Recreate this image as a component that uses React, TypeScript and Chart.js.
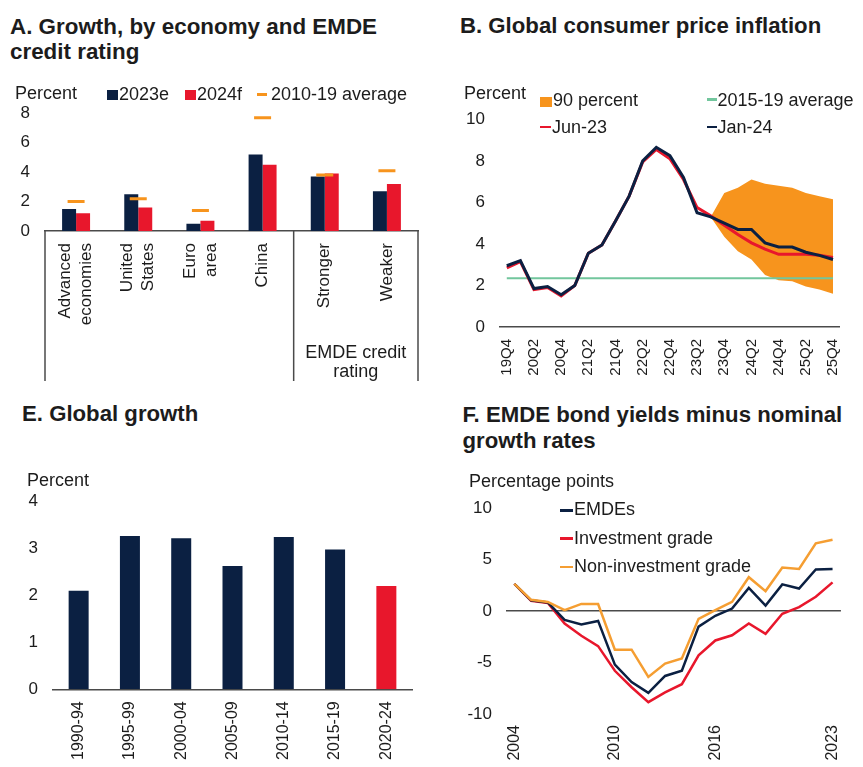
import React, { useEffect, useRef } from 'react';
import { Chart, registerables } from 'chart.js';

Chart.register(...registerables);

const FONT = '"Liberation Sans", Arial, Helvetica, sans-serif';
const TEXT = '#1c1c1c';
const NAVY = '#0b2042';
const RED = '#e8172c';
const ORANGE = '#f7941d';
const ORANGE_LINE = '#f59e32';
const GREEN = '#72c69d';
const AXIS = '#4a4a4a';

Chart.defaults.font.family = FONT;
Chart.defaults.color = TEXT;

// ---------- Panel A: Growth, by economy and EMDE credit rating ----------
const growthCategories = [['Advanced', 'economies'], ['United', 'States'], ['Euro', 'area'], ['China'], ['Stronger'], ['Weaker']];
const growth2023e = [1.5, 2.5, 0.5, 5.2, 3.7, 2.7];
const growth2024f = [1.2, 1.6, 0.7, 4.5, 3.9, 3.2];
const growthAvg1019 = [2.0, 2.2, 1.4, 7.7, 3.8, 4.1];
const growthGroupLabel = ['EMDE credit', 'rating'];

// ---------- Panel B: Global consumer price inflation ----------
const quarters = ['19Q4', '20Q1', '20Q2', '20Q3', '20Q4', '21Q1', '21Q2', '21Q3', '21Q4', '22Q1', '22Q2', '22Q3', '22Q4', '23Q1', '23Q2', '23Q3', '23Q4', '24Q1', '24Q2', '24Q3', '24Q4', '25Q1', '25Q2', '25Q3', '25Q4'];
const cpiJan24 = [2.95, 3.2, 1.85, 1.95, 1.55, 2.0, 3.55, 3.95, 5.1, 6.3, 8.0, 8.65, 8.25, 7.2, 5.5, 5.3, 5.0, 4.7, 4.7, 4.05, 3.85, 3.85, 3.6, 3.45, 3.25];
const cpiJun23 = [2.85, 3.15, 1.8, 1.9, 1.5, 2.0, 3.55, 3.95, 5.1, 6.3, 7.95, 8.55, 8.1, 7.1, 5.75, 5.35, 4.9, 4.45, 4.05, 3.75, 3.5, 3.5, 3.5, 3.45, 3.35];
const cpiBandHigh = [null, null, null, null, null, null, null, null, null, null, null, null, null, null, null, 5.3, 6.45, 6.7, 7.1, 6.9, 6.8, 6.7, 6.45, 6.3, 6.15];
const cpiBandLow = [null, null, null, null, null, null, null, null, null, null, null, null, null, null, null, 5.3, 4.35, 3.65, 3.25, 2.5, 2.25, 2.2, 1.95, 1.8, 1.6];
const cpiAvg1519 = 2.35;

// ---------- Panel E: Global growth ----------
const periods = ['1990-94', '1995-99', '2000-04', '2005-09', '2010-14', '2015-19', '2020-24'];
const globalGrowth = [2.1, 3.27, 3.22, 2.63, 3.25, 2.98, 2.2];

// ---------- Panel F: EMDE bond yields minus nominal growth rates ----------
const years = ['2004', '2005', '2006', '2007', '2008', '2009', '2010', '2011', '2012', '2013', '2014', '2015', '2016', '2017', '2018', '2019', '2020', '2021', '2022', '2023'];
const yearTicks = ['2004', '2010', '2016', '2023'];
const bondEMDEs = [2.65, 1.05, 0.85, -0.85, -1.3, -0.95, -5.2, -6.9, -7.95, -6.3, -5.8, -1.5, -0.45, 0.25, 2.25, 0.55, 2.6, 2.2, 4.05, 4.1];
const bondInvestment = [2.65, 1.0, 0.8, -1.2, -2.4, -3.4, -5.8, -7.4, -8.85, -7.9, -7.1, -4.3, -2.85, -2.35, -1.2, -2.2, -0.25, 0.4, 1.4, 2.8];
const bondNonInvestment = [2.65, 1.1, 0.9, 0.1, 0.7, 0.7, -3.75, -3.75, -6.4, -5.1, -4.6, -0.75, 0.1, 0.9, 3.3, 1.95, 4.25, 4.1, 6.6, 6.95];

type Box = { left: number; top: number; width: number; height: number };

function ChartCanvas({ box, makeConfig }: { box: Box; makeConfig: () => any }) {
  const ref = useRef<HTMLCanvasElement | null>(null);
  useEffect(() => {
    if (!ref.current) return;
    const chart = new Chart(ref.current, makeConfig());
    return () => chart.destroy();
  }, []);
  return (
    <canvas
      ref={ref}
      width={box.width}
      height={box.height}
      style={{ position: 'absolute', left: box.left, top: box.top, width: box.width, height: box.height, display: 'block' }}
    />
  );
}

function Label({ x, baseline, size = 18, bold = false, children }: any) {
  return (
    <div
      style={{
        position: 'absolute',
        left: x,
        top: baseline - 0.8465 * size,
        fontSize: size,
        lineHeight: `${size}px`,
        fontWeight: bold ? 'bold' : 'normal',
        fontFamily: FONT,
        color: TEXT,
        whiteSpace: 'nowrap',
      }}
    >
      {children}
    </div>
  );
}

function Swatch({ x, y, w, h, color }: any) {
  return <div style={{ position: 'absolute', left: x, top: y, width: w, height: h, background: color }} />;
}

const yWidth = (w: number) => (s: any) => {
  s.width = w;
};
const xHeight = (h: number) => (s: any) => {
  s.height = h;
};

const baseOptions = (padding: any) => ({
  responsive: false,
  animation: false as const,
  devicePixelRatio: 1,
  layout: { padding },
  plugins: { legend: { display: false }, tooltip: { enabled: false } },
});

// Panel A plugin: rotated multi-line category labels, bracket lines, group label
const panelAPlugin = {
  id: 'panelAExtras',
  afterDraw(chart: any) {
    const { ctx, chartArea, scales } = chart;
    const xs = scales.x;
    ctx.save();
    ctx.fillStyle = TEXT;
    ctx.font = `17px ${FONT}`;
    ctx.textAlign = 'right';
    ctx.textBaseline = 'middle';
    const lh = 21;
    growthCategories.forEach((lines, i) => {
      const cx = xs.getPixelForValue(i);
      const x0 = cx - ((lines.length - 1) * lh) / 2;
      lines.forEach((line, j) => {
        ctx.save();
        ctx.translate(x0 + j * lh, chartArea.bottom + 12);
        ctx.rotate(-Math.PI / 2);
        ctx.fillText(line, 0, 0);
        ctx.restore();
      });
    });
    const sep = (xs.getPixelForValue(3) + xs.getPixelForValue(4)) / 2;
    ctx.strokeStyle = AXIS;
    ctx.lineWidth = 1.5;
    [chartArea.left, sep, chartArea.right].forEach((px) => {
      ctx.beginPath();
      ctx.moveTo(px, chartArea.bottom);
      ctx.lineTo(px, chartArea.bottom + 150);
      ctx.stroke();
    });
    ctx.font = `18px ${FONT}`;
    ctx.textAlign = 'center';
    ctx.textBaseline = 'alphabetic';
    const gx = (sep + chartArea.right) / 2;
    ctx.fillText(growthGroupLabel[0], gx, chartArea.bottom + 126.7);
    ctx.fillText(growthGroupLabel[1], gx, chartArea.bottom + 145.7);
    ctx.restore();
  },
};

const configA = () => ({
  type: 'bar',
  data: {
    labels: growthCategories,
    datasets: [
      {
        type: 'line',
        label: '2010-19 average',
        data: growthAvg1019,
        showLine: false,
        pointStyle: 'line',
        pointRadius: 8.5,
        pointBorderWidth: 3,
        pointBorderColor: ORANGE,
        pointBackgroundColor: ORANGE,
        borderColor: ORANGE,
      },
      { label: '2023e', data: growth2023e, backgroundColor: NAVY, categoryPercentage: 0.45, barPercentage: 1 },
      { label: '2024f', data: growth2024f, backgroundColor: RED, categoryPercentage: 0.45, barPercentage: 1 },
    ],
  },
  options: {
    ...baseOptions({ top: 33.3, right: 12, left: 0, bottom: 0 }),
    scales: {
      x: {
        ticks: { display: false },
        grid: { display: false },
        border: { display: true, color: AXIS, width: 1.5 },
        afterFit: xHeight(169),
      },
      y: {
        min: 0,
        max: 8,
        ticks: { stepSize: 2, padding: 15, font: { size: 17 }, color: TEXT },
        grid: { display: false, drawTicks: false },
        border: { display: false },
        afterFit: yWidth(45),
      },
    },
  },
  plugins: [panelAPlugin],
});

const configB = () => ({
  type: 'line',
  data: {
    labels: quarters,
    datasets: [
      { label: 'Jan-24', data: cpiJan24, borderColor: NAVY, borderWidth: 3, pointRadius: 0, tension: 0 },
      { label: 'Jun-23', data: cpiJun23, borderColor: RED, borderWidth: 3, pointRadius: 0, tension: 0 },
      { label: '2015-19 average', data: quarters.map(() => cpiAvg1519), borderColor: GREEN, borderWidth: 2, pointRadius: 0 },
      {
        label: '90 percent',
        data: cpiBandHigh,
        borderWidth: 0,
        borderColor: 'rgba(0,0,0,0)',
        backgroundColor: ORANGE,
        pointRadius: 0,
        fill: '+1',
        spanGaps: false,
      },
      { label: 'band low', data: cpiBandLow, borderWidth: 0, borderColor: 'rgba(0,0,0,0)', pointRadius: 0, fill: false },
    ],
  },
  options: {
    ...baseOptions({ top: 39.3, right: 0, left: 0, bottom: 0 }),
    scales: {
      x: {
        offset: true,
        ticks: {
          autoSkip: false,
          minRotation: 90,
          maxRotation: 90,
          padding: 12,
          font: { size: 15 },
          color: TEXT,
          callback: (_v: any, i: number) => (i % 2 === 0 ? quarters[i] : ''),
        },
        grid: { display: false, drawTicks: false },
        border: { display: true, color: AXIS, width: 1.5 },
        afterFit: xHeight(73),
      },
      y: {
        min: 0,
        max: 10,
        ticks: { stepSize: 2, padding: 15, font: { size: 17 }, color: TEXT },
        grid: { display: false, drawTicks: false },
        border: { display: false },
        afterFit: yWidth(60),
      },
    },
  },
});

const configE = () => ({
  type: 'bar',
  data: {
    labels: periods,
    datasets: [
      {
        label: 'Global growth',
        data: globalGrowth,
        backgroundColor: periods.map((_p, i) => (i === periods.length - 1 ? RED : NAVY)),
        categoryPercentage: 1,
        barPercentage: 0.39,
      },
    ],
  },
  options: {
    ...baseOptions({ top: 61.7, right: 18, left: 0, bottom: 0 }),
    scales: {
      x: {
        ticks: { autoSkip: false, minRotation: 90, maxRotation: 90, padding: 12, font: { size: 16 }, color: TEXT },
        grid: { display: false, drawTicks: false },
        border: { display: true, color: AXIS, width: 1.5 },
        afterFit: xHeight(77.7),
      },
      y: {
        min: 0,
        max: 4,
        ticks: { stepSize: 1, padding: 15, font: { size: 17 }, color: TEXT },
        grid: { display: false, drawTicks: false },
        border: { display: false },
        afterFit: yWidth(53),
      },
    },
  },
});

const configF = () => ({
  type: 'line',
  data: {
    labels: years,
    datasets: [
      { label: 'Non-investment grade', data: bondNonInvestment, borderColor: ORANGE_LINE, borderWidth: 2.5, pointRadius: 0, tension: 0 },
      { label: 'EMDEs', data: bondEMDEs, borderColor: NAVY, borderWidth: 2.5, pointRadius: 0, tension: 0 },
      { label: 'Investment grade', data: bondInvestment, borderColor: RED, borderWidth: 2.5, pointRadius: 0, tension: 0 },
    ],
  },
  options: {
    ...baseOptions({ top: 68.3, right: 10, left: 0, bottom: 0 }),
    scales: {
      x: {
        offset: true,
        ticks: {
          autoSkip: false,
          minRotation: 90,
          maxRotation: 90,
          padding: 11,
          font: { size: 16 },
          color: TEXT,
          callback: (_v: any, i: number) => (yearTicks.includes(years[i]) ? years[i] : ''),
        },
        grid: { display: false, drawTicks: false },
        border: { display: false },
        afterFit: xHeight(53),
      },
      y: {
        min: -10,
        max: 10,
        ticks: { stepSize: 5, padding: 14, font: { size: 17 }, color: TEXT },
        grid: {
          drawTicks: false,
          lineWidth: 1.5,
          color: (c: any) => (c.tick && c.tick.value === 0 ? AXIS : 'rgba(0,0,0,0)'),
        },
        border: { display: false },
        afterFit: yWidth(66),
      },
    },
  },
});

export default function App() {
  return (
    <div style={{ position: 'fixed', left: 0, top: 0, width: 863, height: 767, background: '#fff', overflow: 'hidden', fontFamily: FONT }}>
      {/* Panel A */}
      <Label x={10} baseline={35} size={22.4} bold>A. Growth, by economy and EMDE</Label>
      <Label x={10} baseline={59.5} size={22.4} bold>credit rating</Label>
      <ChartCanvas box={{ left: 0, top: 80, width: 430, height: 320 }} makeConfig={configA} />
      <Label x={15} baseline={99.5}>Percent</Label>
      <Swatch x={107} y={90} w={11} h={10} color={NAVY} />
      <Label x={119} baseline={100.5}>2023e</Label>
      <Swatch x={185} y={90} w={11} h={10} color={RED} />
      <Label x={197} baseline={100.5}>2024f</Label>
      <Swatch x={257} y={92.5} w={10} h={3} color={ORANGE} />
      <Label x={271} baseline={100.5}>2010-19 average</Label>

      {/* Panel B */}
      <Label x={460} baseline={33.3} size={22.2} bold>B. Global consumer price inflation</Label>
      <ChartCanvas box={{ left: 440, top: 80, width: 423, height: 320 }} makeConfig={configB} />
      <Label x={464} baseline={99}>Percent</Label>
      <Swatch x={540} y={96.5} w={12} h={10} color={ORANGE} />
      <Label x={553} baseline={106.7}>90 percent</Label>
      <Swatch x={707} y={98} w={10} h={2.5} color={GREEN} />
      <Label x={717.5} baseline={106.7}>2015-19 average</Label>
      <Swatch x={540} y={125.5} w={11} h={2.5} color={RED} />
      <Label x={552} baseline={133.3}>Jun-23</Label>
      <Swatch x={707} y={125.5} w={10} h={2.5} color={NAVY} />
      <Label x={717.5} baseline={133.3}>Jan-24</Label>

      {/* Panel E */}
      <Label x={22} baseline={421.7} size={22.2} bold>E. Global growth</Label>
      <ChartCanvas box={{ left: 0, top: 440, width: 430, height: 327 }} makeConfig={configE} />
      <Label x={27} baseline={486.7}>Percent</Label>

      {/* Panel F */}
      <Label x={462.5} baseline={422.3} size={22.2} bold>F. EMDE bond yields minus nominal</Label>
      <Label x={462.5} baseline={448.3} size={22.2} bold>growth rates</Label>
      <ChartCanvas box={{ left: 440, top: 440, width: 423, height: 327 }} makeConfig={configF} />
      <Label x={469} baseline={487}>Percentage points</Label>
      <Swatch x={560} y={509} w={13} h={2.5} color={NAVY} />
      <Label x={574} baseline={515.5}>EMDEs</Label>
      <Swatch x={560} y={537} w={13} h={2.5} color={RED} />
      <Label x={574} baseline={544}>Investment grade</Label>
      <Swatch x={560} y={565.5} w={13} h={2.5} color={ORANGE_LINE} />
      <Label x={574} baseline={572}>Non-investment grade</Label>
    </div>
  );
}
